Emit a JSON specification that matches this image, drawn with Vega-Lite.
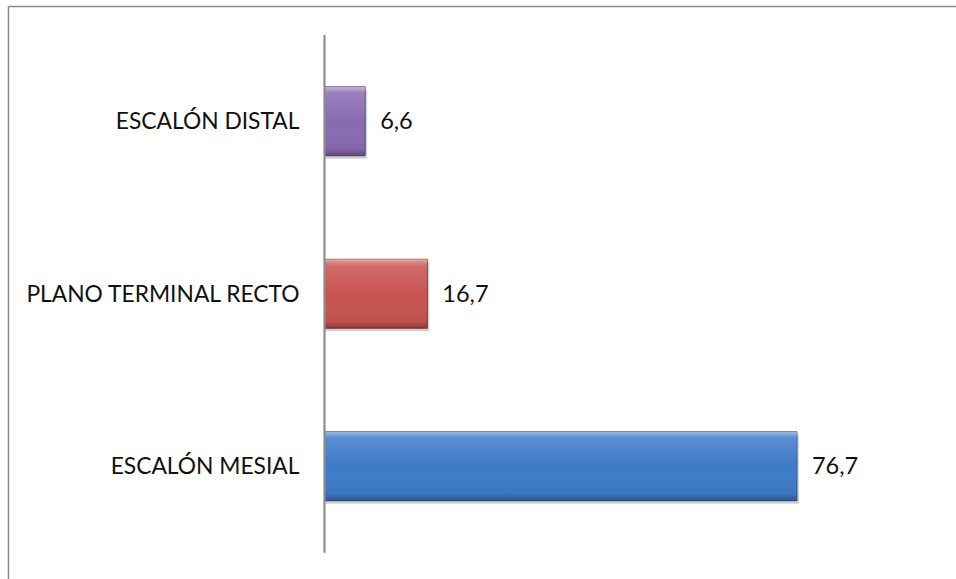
{
  "$schema": "https://vega.github.io/schema/vega-lite/v6.json",
  "autosize": "none",
  "padding": {"left": 8, "top": 6, "right": 0, "bottom": 0},
  "width": 948,
  "height": 573,
  "background": "white",
  "config": {
    "view": {"stroke": null},
    "font": "Lato",
    "locale": {"number": {"decimal": ",", "thousands": ".", "grouping": [3], "currency": ["", " €"]}}
  },
  "data": {
    "values": [
      {"categoria": "ESCALÓN DISTAL", "valor": 6.6},
      {"categoria": "PLANO TERMINAL RECTO", "valor": 16.7},
      {"categoria": "ESCALÓN MESIAL", "valor": 76.7}
    ]
  },
  "encoding": {
    "y": {
      "field": "categoria",
      "type": "nominal",
      "sort": ["ESCALÓN DISTAL", "PLANO TERMINAL RECTO", "ESCALÓN MESIAL"],
      "scale": {"paddingInner": 0.6, "paddingOuter": 0.4609, "align": 0.508},
      "axis": {"labels": false, "ticks": false, "title": null, "domainColor": "#8a8a8a", "domainWidth": 1.5, "grid": false}
    }
  },
  "layer": [
    {
      "mark": {"type": "bar", "color": "#000000", "opacity": 0.18, "xOffset": 2, "yOffset": 3},
      "encoding": {
        "x": {
          "field": "valor",
          "type": "quantitative",
          "scale": {"domain": [-51.38, 102.52], "nice": false, "zero": false},
          "axis": {"orient": "top", "labels": false, "ticks": false, "title": null, "grid": false, "domainColor": "#8a8a8a", "domainWidth": 1.5}
        },
        "x2": {"datum": 0}
      }
    },
    {
      "mark": {"type": "bar", "strokeWidth": 1},
      "encoding": {
        "x": {"field": "valor", "type": "quantitative"},
        "x2": {"datum": 0},
        "fill": {
          "field": "categoria",
          "type": "nominal",
          "scale": {"domain": ["ESCALÓN DISTAL", "PLANO TERMINAL RECTO", "ESCALÓN MESIAL"], "range": ["#8a6bb3", "#c85452", "#3e7bc8"]},
          "legend": null
        },
        "stroke": {
          "field": "categoria",
          "type": "nominal",
          "scale": {"domain": ["ESCALÓN DISTAL", "PLANO TERMINAL RECTO", "ESCALÓN MESIAL"], "range": ["#5f4a80", "#8e3a38", "#2c5a94"]},
          "legend": null
        }
      }
    },
    {
      "mark": {
        "type": "bar",
        "fill": {
          "gradient": "linear",
          "x1": 0, "y1": 0, "x2": 0, "y2": 1,
          "stops": [
            {"offset": 0, "color": "rgba(255,255,255,0.5)"},
            {"offset": 0.09, "color": "rgba(255,255,255,0.14)"},
            {"offset": 0.5, "color": "rgba(255,255,255,0.0)"},
            {"offset": 0.9, "color": "rgba(0,0,0,0.05)"},
            {"offset": 1, "color": "rgba(0,0,0,0.3)"}
          ]
        }
      },
      "encoding": {
        "x": {"field": "valor", "type": "quantitative"},
        "x2": {"datum": 0}
      }
    },
    {
      "mark": {"type": "rule", "color": "#8c8c8c", "strokeWidth": 1.5},
      "encoding": {
        "x": {"datum": 0, "type": "quantitative"},
        "y": {"datum": "ESCALÓN DISTAL", "bandPosition": -0.75},
        "y2": {"datum": "ESCALÓN MESIAL", "bandPosition": 1.75}
      }
    },
    {
      "mark": {"type": "text", "align": "left", "baseline": "middle", "dx": 15, "dy": 1, "fontSize": 23.5, "color": "#111111"},
      "encoding": {
        "x": {"field": "valor", "type": "quantitative"},
        "text": {"field": "valor", "type": "quantitative", "format": ".1f"}
      }
    },
    {
      "mark": {"type": "text", "align": "right", "baseline": "middle", "dx": -25, "dy": 1, "fontSize": 22.8, "color": "#111111"},
      "encoding": {
        "x": {"datum": 0, "type": "quantitative"},
        "text": {"field": "categoria", "type": "nominal"}
      }
    }
  ]
}
